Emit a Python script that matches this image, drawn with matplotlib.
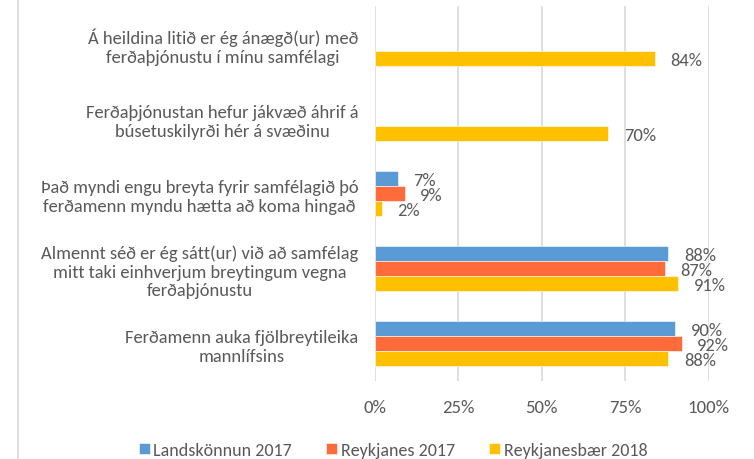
import matplotlib.pyplot as plt
import numpy as np
from matplotlib.lines import Line2D

plt.rcParams['font.family'] = ['Carlito', 'Lato', 'DejaVu Sans']

# survey statements, top to bottom
categories = [
    'Á heildina litið er ég ánægð(ur) með\nferðaþjónustu í mínu samfélagi',
    'Ferðaþjónustan hefur jákvæð áhrif á\nbúsetuskilyrði hér á svæðinu',
    'Það myndi engu breyta fyrir samfélagið þó\nferðamenn myndu hætta að koma hingað',
    'Almennt séð er ég sátt(ur) við að samfélag\nmitt taki einhverjum breytingum vegna\nferðaþjónustu',
    'Ferðamenn auka fjölbreytileika\nmannlífsins',
]
series_names = ['Landskönnun 2017', 'Reykjanes 2017', 'Reykjanesbær 2018']
landskonnun = [None, None, 7, 88, 90]
reykjanes = [None, None, 9, 87, 92]
reykjanesbaer = [84, 70, 2, 91, 88]
colors = ['#5B9BD5', '#FF6B3B', '#FFC000']
tick_vals = [0, 25, 50, 75, 100]

txt = '#595959'
fig = plt.figure(figsize=(7.54, 4.6), dpi=100)
ax = fig.add_axes([375 / 754, 1 - 382 / 460, 333.5 / 754, 375 / 460])

y = np.arange(len(categories))
h = 0.2
for i, (name, vals, c) in enumerate(zip(series_names, [landskonnun, reykjanes, reykjanesbaer], colors)):
    v = np.array([np.nan if x is None else x for x in vals], dtype=float)
    pos = y + (i - 1) * h
    ax.barh(pos, v, height=h, color=c, label=name, edgecolor='white', linewidth=0.4, zorder=3)
    for p, val in zip(pos, v):
        if not np.isnan(val):
            ax.annotate(f'{val:.0f}%', (val, p), xytext=(11, -1), textcoords='offset points',
                        ha='left', va='center', fontsize=13.3, color=txt)

ax.set_xlim(0, 100)
ax.set_ylim(len(categories) - 0.5, -0.5)
ax.set_xticks(tick_vals)
ax.set_xticklabels([f'{t}%' for t in tick_vals])
ax.set_yticks(y)
ax.set_yticklabels(categories, multialignment='center', linespacing=1.2)
ax.tick_params(axis='both', length=0, colors=txt)
ax.tick_params(axis='x', pad=13, labelsize=13.5)
ax.tick_params(axis='y', pad=12, labelsize=13.3)
ax.grid(axis='x', color='#d9d9d9', linewidth=1.2, zorder=0)
for s in ax.spines.values():
    s.set_visible(False)

fig.add_artist(Line2D([18 / 754, 18 / 754], [0, 1], transform=fig.transFigure, color='#d9d9d9', linewidth=1.2))

ax.legend(loc='center', bbox_to_anchor=(393 / 754, 1 - 451 / 460), bbox_transform=fig.transFigure,
          ncol=3, frameon=False, fontsize=13, handlelength=0.6, handleheight=0.6,
          handletextpad=0.2, columnspacing=1.9, labelcolor=txt, borderpad=0)

fig.savefig('out.png', dpi=100)
